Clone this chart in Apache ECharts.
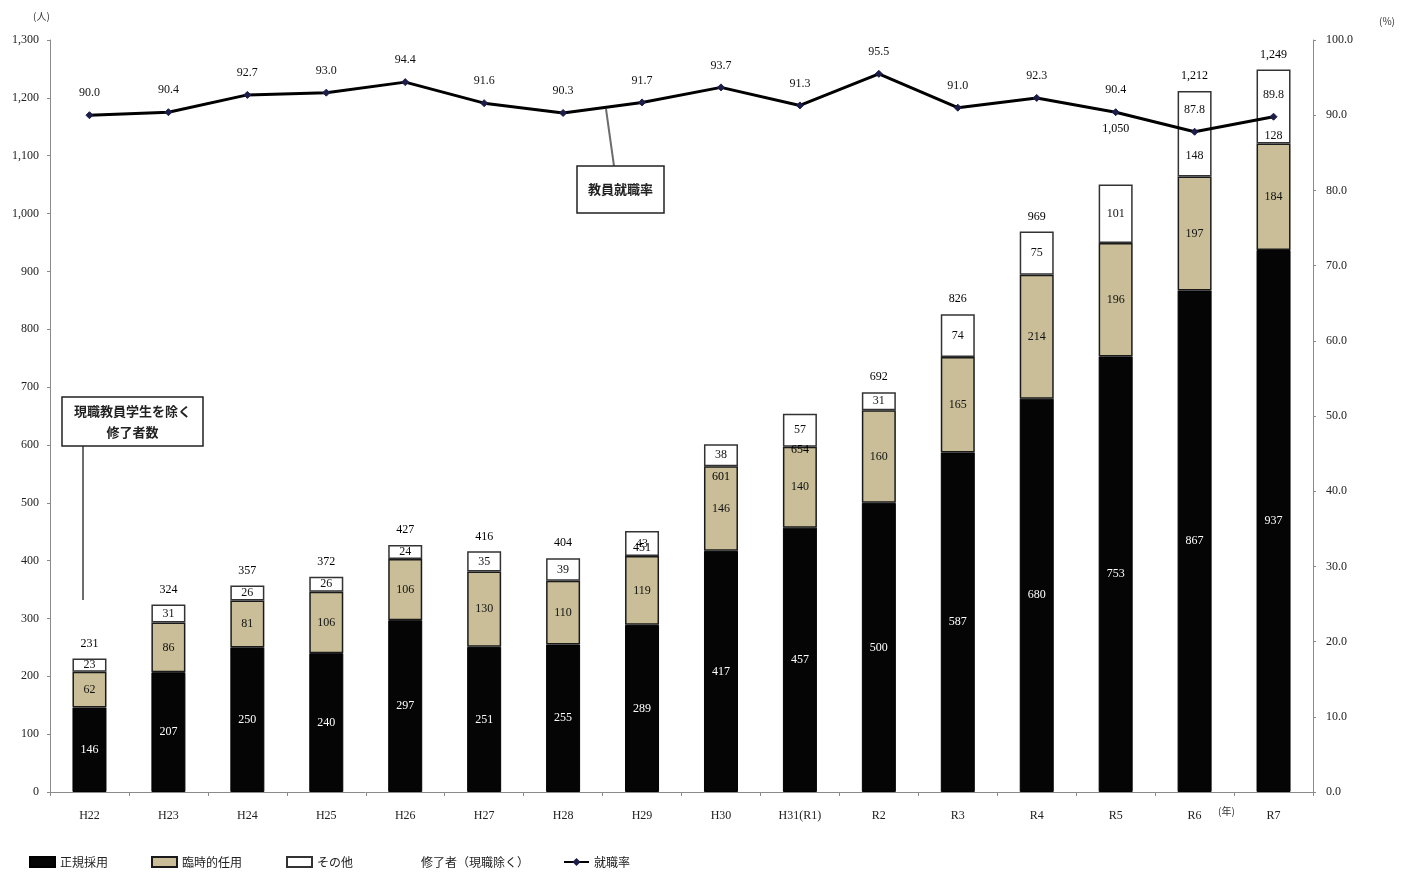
<!DOCTYPE html>
<html lang="ja">
<head>
<meta charset="utf-8">
<title>教員就職状況</title>
<script src="https://cdn.jsdelivr.net/npm/echarts@6/dist/echarts.min.js"></script>
<style>
  html, body { margin: 0; padding: 0; background: #fff; }
  #chart { width: 1406px; height: 872px; }
</style>
</head>
<body>
<div id="chart"></div>
<script>
// 年度
const categories = ['H22', 'H23', 'H24', 'H25', 'H26', 'H27', 'H28', 'H29', 'H30', 'H31(R1)', 'R2', 'R3', 'R4', 'R5', 'R6', 'R7'];
// 正規採用（人）
const regular = [146, 207, 250, 240, 297, 251, 255, 289, 417, 457, 500, 587, 680, 753, 867, 937];
// 臨時的任用（人）
const temporary = [62, 86, 81, 106, 106, 130, 110, 119, 146, 140, 160, 165, 214, 196, 197, 184];
// その他（人）
const other = [23, 31, 26, 26, 24, 35, 39, 43, 38, 57, 31, 74, 75, 101, 148, 128];
// 修了者（現職除く）合計（人）
const totals = [231, 324, 357, 372, 427, 416, 404, 451, 601, 654, 692, 826, 969, 1050, 1212, 1249];
// 教員就職率（%）
const rate = [90.0, 90.4, 92.7, 93.0, 94.4, 91.6, 90.3, 91.7, 93.7, 91.3, 95.5, 91.0, 92.3, 90.4, 87.8, 89.8];
// 左軸・右軸の目盛
const leftTicks = { min: 0, max: 1300, interval: 100 };
const rightTicks = { min: 0, max: 100, interval: 10 };

// ラベルの重なりを避けるための個別の縦ずらし（px）
const totalLabelShift = { 'H29': 32, 'H30': 47, 'H31(R1)': 51, 'R5': -41 };
const otherLabelShift = { 'R6': 22, 'R7': 29 };

const NUM_FONT = '"Liberation Serif", "DejaVu Serif", serif';
const JP_FONT = '"Noto Sans CJK JP", "Noto Sans", sans-serif';
const TAN = '#c9be97';

const fmtInt = v => Number(v).toLocaleString('en-US');

const chart = echarts.init(document.getElementById('chart'), null, { renderer: 'canvas' });

const otherData = other.map((v, i) => {
  const dy = otherLabelShift[categories[i]] || 0;
  return dy ? { value: v, label: { offset: [0, dy] } } : v;
});
const totalData = totals.map((v, i) => {
  const dy = totalLabelShift[categories[i]] || 0;
  return dy ? { value: v, label: { offset: [0, dy] } } : v;
});

// 凡例は項目ごとに横位置を決めて並べる
const legendItems = [
  { name: '正規採用', left: 29, icon: 'rect' },
  { name: '臨時的任用', left: 151, icon: 'rect' },
  { name: 'その他', left: 286, icon: 'rect' },
  { name: '修了者（現職除く）', left: 391, icon: 'rect', itemStyle: { color: 'rgba(0,0,0,0)', borderWidth: 0 } },
  { name: '就職率', left: 563 }
];
const legends = legendItems.map(it => {
  const entry = { name: it.name };
  if (it.icon) entry.icon = it.icon;
  if (it.itemStyle) entry.itemStyle = it.itemStyle;
  return {
    left: it.left,
    top: 856,
    padding: 0,
    itemWidth: 25,
    itemHeight: 10,
    selectedMode: false,
    textStyle: { fontFamily: JP_FONT, fontSize: 12, color: '#222' },
    data: [entry]
  };
});

const option = {
  animation: false,
  backgroundColor: '#fff',
  grid: { left: 50, right: 93, top: 40, bottom: 80, containLabel: false },
  legend: legends,
  xAxis: {
    type: 'category',
    data: categories,
    axisLine: { lineStyle: { color: '#8a8a8a', width: 1 } },
    axisTick: { show: true, length: 4, lineStyle: { color: '#8a8a8a' } },
    axisLabel: { margin: 18, fontFamily: NUM_FONT, fontSize: 12, color: '#222' },
    splitLine: { show: false }
  },
  yAxis: [
    {
      type: 'value',
      min: leftTicks.min, max: leftTicks.max, interval: leftTicks.interval,
      axisLine: { show: true, lineStyle: { color: '#8a8a8a', width: 1 } },
      axisTick: { show: true, length: 3, lineStyle: { color: '#8a8a8a' } },
      axisLabel: { margin: 11, fontFamily: NUM_FONT, fontSize: 12, color: '#222', formatter: fmtInt },
      splitLine: { show: false }
    },
    {
      type: 'value',
      min: rightTicks.min, max: rightTicks.max, interval: rightTicks.interval,
      axisLine: { show: true, lineStyle: { color: '#8a8a8a', width: 1 } },
      axisTick: { show: true, length: 3, lineStyle: { color: '#8a8a8a' } },
      axisLabel: { margin: 13, fontFamily: NUM_FONT, fontSize: 12, color: '#222', formatter: v => v.toFixed(1) },
      splitLine: { show: false }
    }
  ],
  series: [
    {
      name: '正規採用',
      type: 'bar',
      stack: 'grad',
      barWidth: 34,
      data: regular,
      itemStyle: { color: '#050505', borderColor: '#000', borderWidth: 1 },
      label: { show: true, position: 'inside', color: '#fff', fontFamily: NUM_FONT, fontSize: 12 }
    },
    {
      name: '臨時的任用',
      type: 'bar',
      stack: 'grad',
      barWidth: 34,
      data: temporary,
      itemStyle: { color: TAN, borderColor: '#1a1a1a', borderWidth: 1.5 },
      label: { show: true, position: 'inside', color: '#111', fontFamily: NUM_FONT, fontSize: 12 }
    },
    {
      name: 'その他',
      type: 'bar',
      stack: 'grad',
      barWidth: 34,
      data: otherData,
      itemStyle: { color: '#fff', borderColor: '#333', borderWidth: 1.5 },
      label: { show: true, position: 'inside', color: '#111', fontFamily: NUM_FONT, fontSize: 12 }
    },
    {
      name: '修了者（現職除く）',
      type: 'scatter',
      data: totalData,
      symbolSize: 0,
      itemStyle: { color: '#000', opacity: 1 },
      z: 5,
      label: {
        show: true, position: 'top', distance: 9,
        color: '#000', fontFamily: NUM_FONT, fontSize: 12,
        formatter: p => fmtInt(p.value)
      }
    },
    {
      name: '就職率',
      type: 'line',
      yAxisIndex: 1,
      data: rate,
      symbol: 'diamond',
      symbolSize: 7,
      z: 6,
      lineStyle: { color: '#000', width: 3 },
      itemStyle: { color: '#1d1d4a', borderColor: '#1d1d4a' },
      label: {
        show: true, position: 'top', distance: 12,
        color: '#111', fontFamily: NUM_FONT, fontSize: 12,
        formatter: p => p.value.toFixed(1)
      }
    }
  ],
  graphic: [
    // 軸の単位
    { type: 'text', left: 33, top: 11, style: { text: '(人)', font: '10px ' + JP_FONT, fill: '#333' } },
    { type: 'text', left: 1379, top: 16, style: { text: '(%)', font: '10px ' + JP_FONT, fill: '#333' } },
    { type: 'text', left: 1218, top: 806, style: { text: '(年)', font: '10px ' + JP_FONT, fill: '#333' } },
    // 修了者数の注記
    {
      type: 'line', shape: { x1: 83, y1: 446, x2: 83, y2: 600 },
      style: { stroke: '#6d6d6d', lineWidth: 2 }
    },
    {
      type: 'rect', shape: { x: 62, y: 397, width: 141, height: 49 },
      style: { fill: '#fff', stroke: '#222', lineWidth: 1.5 }
    },
    {
      type: 'text', x: 132.5, y: 421.5,
      style: {
        text: '現職教員学生を除く\n修了者数', font: 'bold 13px ' + JP_FONT,
        fill: '#222', align: 'center', verticalAlign: 'middle', lineHeight: 21
      }
    },
    // 就職率の注記
    {
      type: 'line', shape: { x1: 614, y1: 166, x2: 606, y2: 109 },
      style: { stroke: '#6d6d6d', lineWidth: 2 }
    },
    {
      type: 'rect', shape: { x: 577, y: 166, width: 87, height: 47 },
      style: { fill: '#fff', stroke: '#222', lineWidth: 1.5 }
    },
    {
      type: 'text', x: 620.5, y: 189.5,
      style: {
        text: '教員就職率', font: 'bold 13px ' + JP_FONT,
        fill: '#222', align: 'center', verticalAlign: 'middle'
      }
    }
  ]
};

chart.setOption(option);
</script>
</body>
</html>
